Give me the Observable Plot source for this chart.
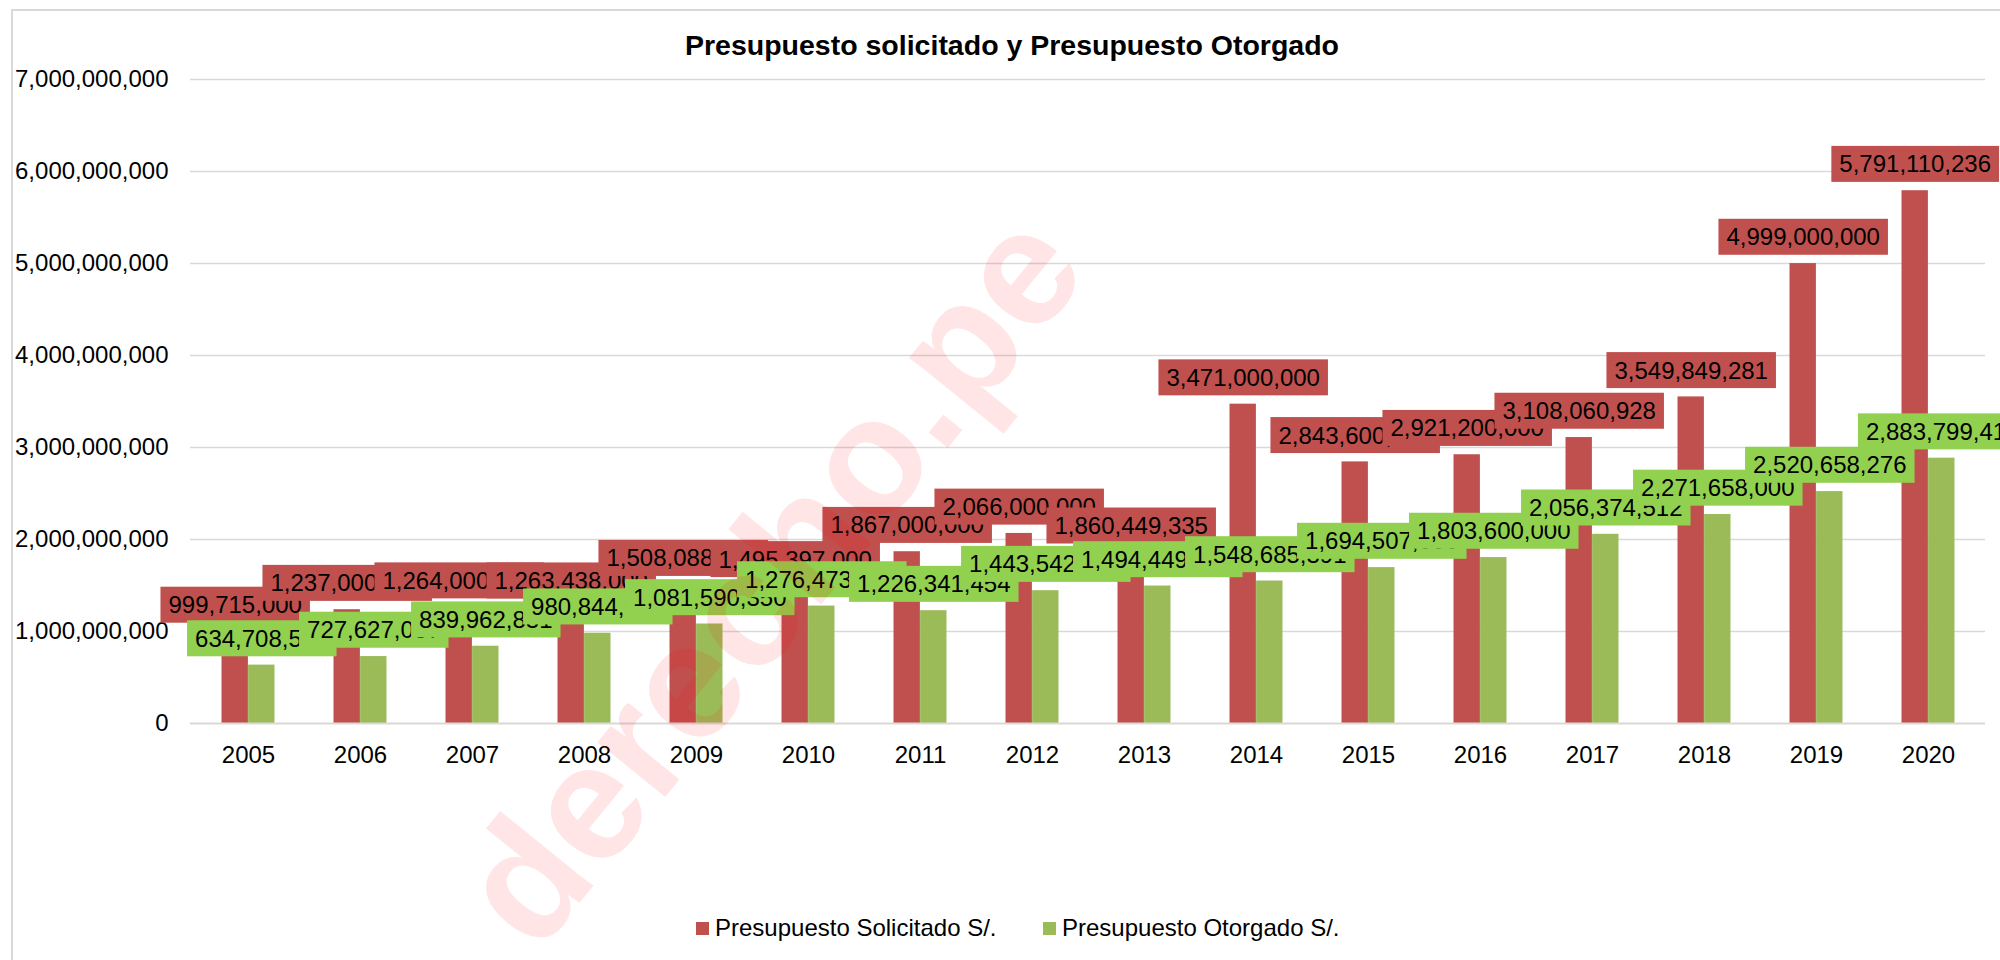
<!DOCTYPE html>
<html>
<head>
<meta charset="utf-8">
<script src="https://cdn.jsdelivr.net/npm/d3@7"></script>
<script src="https://cdn.jsdelivr.net/npm/@observablehq/plot@0.6"></script>
<style>
  html, body { margin: 0; padding: 0; background: #fff; }
  #wrap { position: relative; width: 2000px; height: 960px; overflow: hidden; background: #fff;
          font-family: "Liberation Sans", Arial, sans-serif; color: #000; }
  #frame { position: absolute; left: 11px; top: 9px; width: 2100px; height: 1100px;
           border-left: 2px solid #d9d9d9; border-top: 2px solid #d9d9d9; }
  #title { position: absolute; left: 0; width: 2024px; top: 28px; text-align: center;
           font-weight: bold; font-size: 28.5px; line-height: 34px; }
  #chart { position: absolute; left: 0; top: 0; }
  .leg { position: absolute; top: 912px; font-size: 24px; line-height: 32px; white-space: nowrap; }
  .leg span.sw { display: inline-block; width: 13px; height: 13px; margin-right: 6px; vertical-align: 1px; }
  #wm { position: absolute; left: 770px; top: 578px; transform: translate(-50%, -50%) rotate(-51deg);
        font-weight: bold; font-size: 165px; color: rgba(255, 0, 0, 0.1); white-space: nowrap;
        pointer-events: none; font-family: "Liberation Sans", Arial, sans-serif; }
</style>
</head>
<body>
<div id="wrap">
  <div id="frame"></div>
  <div id="chart"></div>
  <div id="title">Presupuesto solicitado y Presupuesto Otorgado</div>
  <div class="leg" id="leg0"></div>
  <div class="leg" id="leg1"></div>
  <div id="wm">derecho.pe</div>
</div>
<script>
// ---- data ----
const years = ["2005","2006","2007","2008","2009","2010","2011","2012","2013","2014","2015","2016","2017","2018","2019","2020"];
const solicitado = [999715000, 1237000000, 1264000000, 1263438000, 1508088000, 1495397000, 1867000000, 2066000000,
                    1860449335, 3471000000, 2843600000, 2921200000, 3108060928, 3549849281, 4999000000, 5791110236];
const otorgado = [634708530, 727627037, 839962831, 980844000, 1081590350, 1276473000, 1226341454, 1443542000,
                  1494449000, 1548685391, 1694507000, 1803600000, 2056374512, 2271658000, 2520658276, 2883799411];
const yTicks = [0, 1e9, 2e9, 3e9, 4e9, 5e9, 6e9, 7e9];
const seriesNames = ["Presupuesto Solicitado S/.", "Presupuesto Otorgado S/."];
const barColors = ["#C0504D", "#9BBB59"];
const labelColors = ["#C0504D", "#92D050"];

const rowsS = years.map((y, i) => ({year: y, value: solicitado[i]}));
const rowsO = years.map((y, i) => ({year: y, value: otorgado[i]}));
const fmt = d3.format(",");

const chart = Plot.plot({
  width: 2000,
  height: 800,
  marginLeft: 190,
  marginRight: 15,
  marginTop: 79,
  marginBottom: 77,
  style: {fontFamily: "'Liberation Sans', Arial, sans-serif", fontSize: "24px", color: "#000", background: "transparent", overflow: "visible"},
  x: {domain: years, padding: 0, label: null, tickSize: 0, tickPadding: 22},
  y: {domain: [0, 7e9], ticks: yTicks, tickFormat: fmt, label: null, tickSize: 0, tickPadding: 22},
  marks: [
    Plot.ruleY(yTicks.slice(1), {stroke: "#d9d9d9", strokeWidth: 1.6}),
    Plot.barY(rowsS, {x: "year", y: "value", fill: barColors[0], insetLeft: 29.5, insetRight: 56.1}),
    Plot.barY(rowsO, {x: "year", y: "value", fill: barColors[1], insetLeft: 56.1, insetRight: 29.5}),
    Plot.ruleY([0], {stroke: "#d9d9d9", strokeWidth: 2.2}),
    Plot.text(rowsS, {x: "year", y: "value", text: d => fmt(d.value), dx: -13.3, dy: -26,
                      lineAnchor: "middle", fill: "#000", fontSize: 24}),
    Plot.text(rowsO, {x: "year", y: "value", text: d => fmt(d.value), dx: 13.3, dy: -26,
                      lineAnchor: "middle", fill: "#000", fontSize: 24})
  ]
});
document.getElementById("chart").appendChild(chart);

// label boxes: one box directly behind each label, so later labels cover earlier ones
const textGroups = chart.querySelectorAll('g[aria-label="text"]');
textGroups.forEach((g, gi) => {
  const texts = Array.from(g.querySelectorAll("text"));
  texts.forEach(t => {
    const bb = t.getBBox();
    const cy = bb.y + bb.height / 2;
    const r = document.createElementNS("http://www.w3.org/2000/svg", "rect");
    r.setAttribute("x", bb.x - 8);
    r.setAttribute("y", cy - 18);
    r.setAttribute("width", bb.width + 16);
    r.setAttribute("height", 36);
    r.setAttribute("fill", labelColors[gi]);
    const tr = t.getAttribute("transform");
    if (tr) r.setAttribute("transform", tr);
    g.insertBefore(r, t);
  });
});

// legend
[["leg0", 696], ["leg1", 1043]].forEach(([id, left], i) => {
  const el = document.getElementById(id);
  el.style.left = left + "px";
  el.innerHTML = `<span class="sw" style="background:${barColors[i]}"></span>${seriesNames[i]}`;
});
</script>
</body>
</html>
